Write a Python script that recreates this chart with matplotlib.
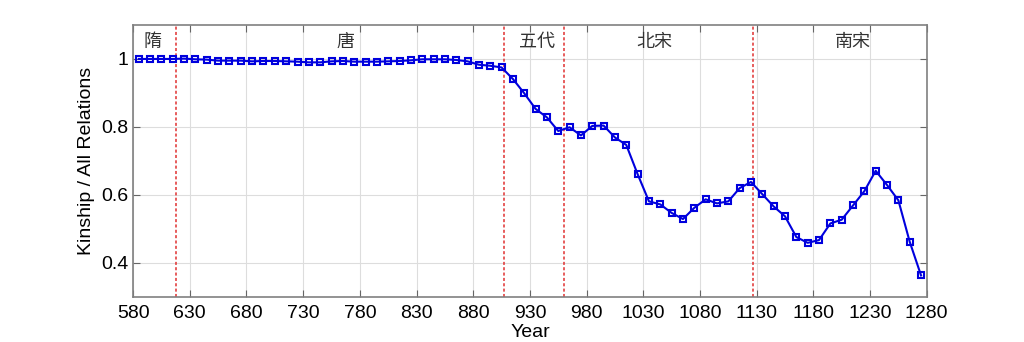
import matplotlib
matplotlib.use("Agg")
import matplotlib.pyplot as plt

plt.rcParams['font.family'] = ['Liberation Sans', 'DejaVu Sans']

# ratio of kinship relations, sampled every 10 years
years = list(range(585, 1276, 10))
ratio = [1.000, 1.000, 1.000, 1.000, 1.001, 0.999, 0.998, 0.995, 0.995, 0.995,
         0.993, 0.994, 0.994, 0.993, 0.992, 0.990, 0.990, 0.993, 0.994, 0.992,
         0.992, 0.992, 0.993, 0.994, 0.996, 0.999, 0.999, 0.999, 0.997, 0.993,
         0.983, 0.980, 0.975, 0.941, 0.899, 0.853, 0.828, 0.788, 0.799, 0.775,
         0.803, 0.804, 0.769, 0.747, 0.661, 0.581, 0.572, 0.547, 0.529, 0.562,
         0.587, 0.575, 0.581, 0.620, 0.638, 0.602, 0.566, 0.537, 0.476, 0.459,
         0.467, 0.516, 0.527, 0.569, 0.611, 0.671, 0.629, 0.584, 0.462, 0.363]

dynasty_breaks = [618, 907, 960, 1127]
dynasty_names = ["隋", "唐", "五代", "北宋", "南宋"]
dynasty_label_x = [597, 767, 936, 1040, 1215]

fig = plt.figure(figsize=(10.24, 3.42), dpi=100)
ax = fig.add_axes([0.130, 0.132, 0.775, 0.795])

ax.plot(years, ratio, color="#0000dd", lw=1.5, marker="s", ms=5,
        mfc="none", mec="#0000dd", mew=1.5, zorder=3)

for b in dynasty_breaks:
    ax.axvline(b, color="#e03030", ls=(0, (2, 1.5)), lw=1.1, zorder=2)

for name, x in zip(dynasty_names, dynasty_label_x):
    ax.text(x, 1.05, name, ha="center", va="center", fontsize=13,
            color="#333333", family=["Noto Sans CJK SC", "DejaVu Sans"],
            weight="light")

ax.set_xlim(580, 1280)
ax.set_ylim(0.3, 1.1)
ax.set_xticks(range(580, 1281, 50))
ax.set_yticks([0.4, 0.6, 0.8, 1.0])
ax.set_yticklabels(["0.4", "0.6", "0.8", "1"])
ax.grid(True, color="#dddddd", lw=0.8)
ax.set_axisbelow(True)
ax.tick_params(direction="in", top=True, right=True, labelsize=14,
               color="#666666", length=5)
ax.tick_params(axis="x", pad=6)
for s in ax.spines.values():
    s.set_color("#808080")
    s.set_linewidth(1.2)

ax.set_xlabel("Year", fontsize=14, labelpad=1)
ax.set_ylabel("Kinship / All Relations", fontsize=14)

fig.savefig("out.png", dpi=100)
